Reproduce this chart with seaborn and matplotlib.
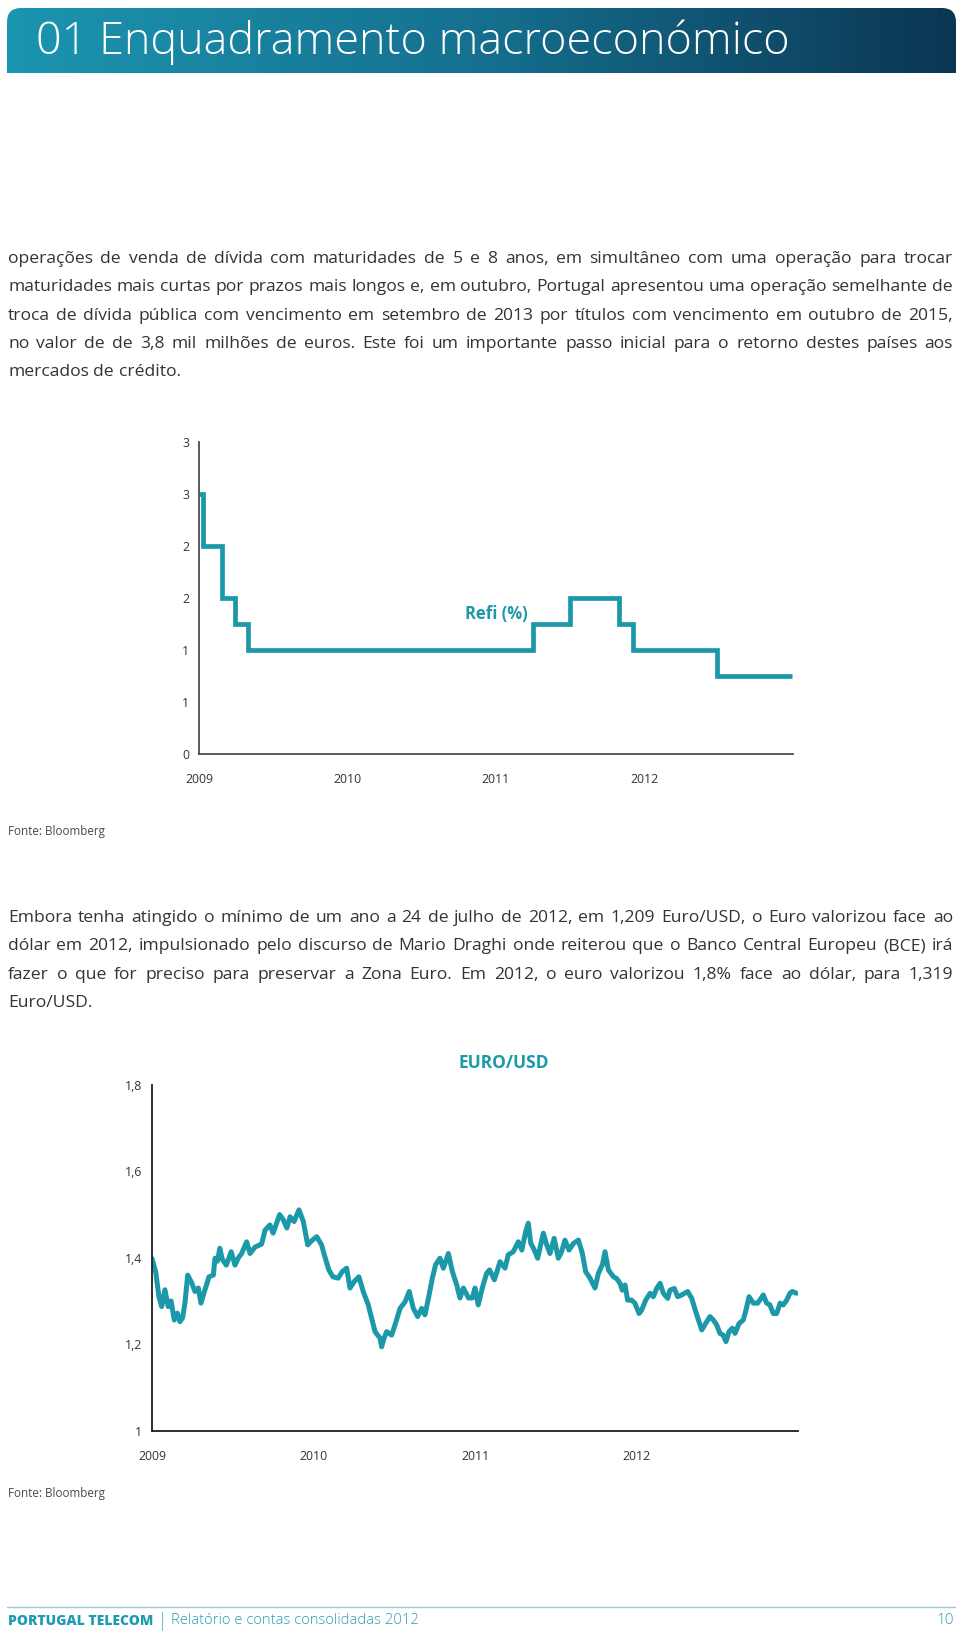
import numpy as np
import matplotlib
matplotlib.use("Agg")
import matplotlib.pyplot as plt
import matplotlib.font_manager as fm
from matplotlib.colors import LinearSegmentedColormap
from matplotlib.patches import FancyBboxPatch
import seaborn as sns

# ---------------- data ----------------
header_title = "01 Enquadramento macroeconómico"

para1_lines = [
    "operações de venda de dívida com maturidades de 5 e 8 anos, em simultâneo com uma operação para trocar",
    "maturidades mais curtas por prazos mais longos e, em outubro, Portugal apresentou uma operação semelhante de",
    "troca de dívida pública com vencimento em setembro de 2013 por títulos com vencimento em outubro de 2015,",
    "no valor de de 3,8 mil milhões de euros. Este foi um importante passo inicial para o retorno destes países aos",
    "mercados de crédito.",
]
para2_lines = [
    "Embora tenha atingido o mínimo de um ano a 24 de julho de 2012, em 1,209 Euro/USD, o Euro valorizou face ao",
    "dólar em 2012, impulsionado pelo discurso de Mario Draghi onde reiterou que o Banco Central Europeu (BCE) irá",
    "fazer o que for preciso para preservar a Zona Euro. Em 2012, o euro valorizou 1,8% face ao dólar, para 1,319",
    "Euro/USD.",
]
source_text = "Fonte: Bloomberg"

# Refi (%) step series: decimal year of each change and the new rate
refi_time = [2009.0, 2009.03, 2009.155, 2009.24, 2009.33, 2011.25, 2011.50,
             2011.83, 2011.92, 2012.49, 2012.99]
refi_rate = [2.5, 2.0, 1.5, 1.25, 1.0, 1.25, 1.5, 1.25, 1.0, 0.75, 0.75]
refi_label = "Refi (%)"
refi_yticks = [0, 0.5, 1.0, 1.5, 2.0, 2.5, 3.0]
refi_yticklabels = ["0", "1", "1", "2", "2", "3", "3"]

# EUR/USD: fraction of year, value
eur_t_2009 = [0.000, 0.023, 0.043, 0.060, 0.080, 0.100, 0.118, 0.138, 0.157, 0.173,
              0.190, 0.204, 0.221, 0.246, 0.266, 0.287, 0.303, 0.328, 0.353, 0.380,
              0.390, 0.405, 0.420, 0.435, 0.460, 0.490, 0.514, 0.535, 0.555, 0.586,
              0.607, 0.638, 0.669, 0.679, 0.700, 0.730, 0.750, 0.790, 0.810, 0.835,
              0.855, 0.880, 0.910, 0.937, 0.964, 0.990]
eur_v_2009 = [1.398, 1.367, 1.310, 1.287, 1.326, 1.287, 1.300, 1.256, 1.272, 1.252,
              1.262, 1.295, 1.360, 1.342, 1.322, 1.330, 1.295, 1.326, 1.356, 1.360,
              1.399, 1.392, 1.422, 1.397, 1.383, 1.414, 1.383, 1.400, 1.410, 1.437,
              1.410, 1.425, 1.430, 1.432, 1.464, 1.476, 1.457, 1.500, 1.490, 1.469,
              1.495, 1.484, 1.511, 1.484, 1.430, 1.440]
eur_t_2010 = [0.020, 0.050, 0.070, 0.095, 0.120, 0.153, 0.178, 0.205, 0.226, 0.252,
              0.281, 0.308, 0.339, 0.360, 0.381, 0.412, 0.422, 0.438, 0.453, 0.484,
              0.505, 0.536, 0.567, 0.593, 0.618, 0.645, 0.670, 0.690, 0.710, 0.736,
              0.756, 0.783, 0.804, 0.835, 0.860, 0.887, 0.907, 0.928, 0.960, 0.983]
eur_v_2010 = [1.449, 1.430, 1.403, 1.372, 1.356, 1.353, 1.368, 1.376, 1.330, 1.345,
              1.356, 1.322, 1.291, 1.260, 1.229, 1.214, 1.194, 1.215, 1.229, 1.221,
              1.245, 1.283, 1.298, 1.322, 1.283, 1.264, 1.283, 1.268, 1.303, 1.353,
              1.384, 1.399, 1.376, 1.410, 1.368, 1.337, 1.307, 1.330, 1.307, 1.307]
eur_t_2011 = [0.000, 0.020, 0.045, 0.072, 0.090, 0.120, 0.155, 0.186, 0.206, 0.237,
              0.268, 0.290, 0.314, 0.330, 0.345, 0.367, 0.388, 0.402, 0.423, 0.444,
              0.464, 0.490, 0.516, 0.536, 0.557, 0.582, 0.609, 0.640, 0.665, 0.685,
              0.712, 0.743, 0.764, 0.789, 0.805, 0.826, 0.857, 0.877, 0.898, 0.912,
              0.929, 0.945, 0.970, 0.990]
eur_v_2011 = [1.330, 1.291, 1.330, 1.364, 1.372, 1.349, 1.391, 1.376, 1.407, 1.414,
              1.437, 1.418, 1.461, 1.480, 1.434, 1.418, 1.399, 1.422, 1.457, 1.430,
              1.410, 1.445, 1.399, 1.414, 1.441, 1.418, 1.433, 1.441, 1.410, 1.368,
              1.353, 1.330, 1.364, 1.384, 1.414, 1.372, 1.356, 1.352, 1.341, 1.325,
              1.337, 1.302, 1.302, 1.295]
eur_t_2012 = [0.016, 0.032, 0.057, 0.084, 0.104, 0.125, 0.146, 0.166, 0.193, 0.207,
              0.234, 0.255, 0.280, 0.317, 0.342, 0.367, 0.387, 0.404, 0.428, 0.455,
              0.476, 0.496, 0.517, 0.537, 0.554, 0.573, 0.593, 0.610, 0.635, 0.661,
              0.678, 0.697, 0.723, 0.750, 0.771, 0.785, 0.806, 0.826, 0.847, 0.868,
              0.889, 0.909, 0.930, 0.950, 0.965, 0.990]
eur_v_2012 = [1.271, 1.279, 1.302, 1.318, 1.310, 1.329, 1.341, 1.318, 1.306, 1.325,
              1.329, 1.310, 1.314, 1.322, 1.306, 1.275, 1.252, 1.233, 1.248, 1.264,
              1.256, 1.245, 1.225, 1.221, 1.206, 1.229, 1.237, 1.225, 1.248, 1.256,
              1.279, 1.310, 1.295, 1.295, 1.306, 1.314, 1.295, 1.291, 1.271, 1.271,
              1.295, 1.291, 1.302, 1.318, 1.322, 1.318]
eur_label = "EURO/USD"
eur_yticks = [1.0, 1.2, 1.4, 1.6, 1.8]
eur_yticklabels = ["1", "1,2", "1,4", "1,6", "1,8"]

year_ticks = [2009, 2010, 2011, 2012]
year_labels = ["2009", "2010", "2011", "2012"]

footer_brand = "PORTUGAL TELECOM"
footer_text = "Relatório e contas consolidadas 2012"
page_number = "10"

# ---------------- style ----------------
sns.set_style("white")
avail = {f.name for f in fm.fontManager.ttflist}
BODY = "Open Sans" if "Open Sans" in avail else "DejaVu Sans"
plt.rcParams["font.family"] = [BODY, "DejaVu Sans"]

TEAL = "#1c99a8"
TEXT = "#333333"
W, H = 960, 1637

fig = plt.figure(figsize=(W / 100, H / 100), dpi=100)
fig.patch.set_facecolor("white")
renderer = fig.canvas.get_renderer()


def fx(x):
    return x / W


def fy(y):
    return 1 - y / H


def width_of(t):
    return t.get_window_extent(renderer).width


def fit(t, target):
    w = width_of(t)
    t.set_fontsize(t.get_fontsize() * target / w)
    return t


# ---------------- header ----------------
hx0, hx1, hy0, hy1 = 7, 956, 8, 73
hax = fig.add_axes([fx(hx0), fy(hy1), fx(hx1 - hx0), (hy1 - hy0) / H])
hax.set_xlim(0, hx1 - hx0)
hax.set_ylim(hy1 - hy0, 0)
hax.axis("off")
cmap = LinearSegmentedColormap.from_list("hdr", ["#1c95b0", "#15708f", "#0b3653"])
img = hax.imshow(np.linspace(0, 1, 512)[None, :], cmap=cmap, aspect="auto",
                 extent=(0, hx1 - hx0, hy1 - hy0, 0))
clip = FancyBboxPatch((0, 0), hx1 - hx0, hy1 - hy0 + 30,
                      boxstyle="round,pad=0,rounding_size=14",
                      transform=hax.transData, facecolor="none", edgecolor="none")
img.set_clip_path(clip)
title = fig.text(fx(36), fy(42), header_title, color="white", fontsize=30,
                 fontweight="light", va="center", ha="left")
fit(title, 754)


# ---------------- paragraphs ----------------
BODY_WEIGHT = "normal"


def paragraph(lines, x0, x1, base0, dy, size, justify_last=False):
    for i, line in enumerate(lines):
        words = line.split(" ")
        texts = [fig.text(0, 0, w, fontsize=size, color=TEXT, va="baseline",
                          ha="left", fontweight=BODY_WEIGHT) for w in words]
        widths = [width_of(t) for t in texts]
        last = (i == len(lines) - 1) and not justify_last
        if last or len(words) == 1:
            sp = fig.text(0, 0, "a a", fontsize=size, fontweight=BODY_WEIGHT)
            sp2 = fig.text(0, 0, "aa", fontsize=size, fontweight=BODY_WEIGHT)
            gap = width_of(sp) - width_of(sp2)
            sp.remove(); sp2.remove()
        else:
            gap = (x1 - x0 - sum(widths)) / (len(words) - 1)
        x = x0
        for t, w in zip(texts, widths):
            t.set_position((fx(x), fy(base0 + i * dy)))
            x += w + gap


def natural_size(all_lines, target, ref=10.0):
    mx = 0
    for line in all_lines:
        t = fig.text(0, 0, line, fontsize=ref, fontweight=BODY_WEIGHT)
        mx = max(mx, width_of(t))
        t.remove()
    return ref * target / mx


body_size = min(13.0, natural_size(para1_lines[:4] + para2_lines[:3], 953 - 8 - 6))
paragraph(para1_lines, 8, 953, 263, 28.3, body_size)
paragraph(para2_lines, 8, 953, 922, 28.3, body_size)

# ---------------- chart 1 : Refi ----------------
ax1 = fig.add_axes([fx(199), fy(754), fx(793 - 199), (754 - 442) / H])
sns.lineplot(x=refi_time, y=refi_rate, ax=ax1, color=TEAL, linewidth=3.4,
             drawstyle="steps-post", estimator=None, sort=False,
             solid_capstyle="butt", solid_joinstyle="miter")
ax1.set_xlim(2009.0, 2013.0)
ax1.set_ylim(0, 3.0)
ax1.set_yticks(refi_yticks)
ax1.set_yticklabels(refi_yticklabels)
ax1.text(2011.0, 1.35, refi_label, color=TEAL, fontsize=12, fontweight="bold",
         ha="center", va="center")

# ---------------- chart 2 : EUR/USD ----------------
eur_time = ([2009 + t for t in eur_t_2009] + [2010 + t for t in eur_t_2010] +
            [2011 + t for t in eur_t_2011] + [2012 + t for t in eur_t_2012])
eur_value = eur_v_2009 + eur_v_2010 + eur_v_2011 + eur_v_2012

ax2 = fig.add_axes([fx(152), fy(1430.6), fx(798 - 152), (1430.6 - 1085) / H])
sns.lineplot(x=eur_time, y=eur_value, ax=ax2, color=TEAL, linewidth=3.6,
             estimator=None, sort=False)
ax2.set_xlim(2009.0, 2013.0)
ax2.set_ylim(1.0, 1.8)
ax2.set_yticks(eur_yticks)
ax2.set_yticklabels(eur_yticklabels)
ax2.text(2011.18, 1.852, eur_label, color=TEAL, fontsize=12.5, fontweight="bold",
         ha="center", va="center", clip_on=False)

for ax, scol in ((ax1, "#4d4d4d"), (ax2, "#1e1e1e")):
    sns.despine(ax=ax)
    ax.set_facecolor("none")
    for s in ("left", "bottom"):
        ax.spines[s].set_linewidth(1.3)
        ax.spines[s].set_color(scol)
    ax.set_xticks(year_ticks)
    ax.set_xticklabels(year_labels)
    ax.tick_params(axis="y", length=4, width=1, direction="out", pad=3,
                   labelsize=8.8, colors="#333333")
    ax.tick_params(axis="x", length=0, pad=14, labelsize=8.8, colors="#333333")
    ax.grid(False)
    ax.set_xlabel("")
    ax.set_ylabel("")

# ---------------- sources ----------------
for yy in (831, 1494):
    t = fig.text(fx(7.5), fy(yy), source_text, color="#4a4a4a", fontsize=10,
                 va="center", ha="left")
    fit(t, 97)

# ---------------- footer ----------------
fig.add_artist(plt.Line2D([fx(7), fx(955)], [fy(1607), fy(1607)],
                          color="#9ccbd3", linewidth=1.0))
b = fig.text(fx(7.5), fy(1621), footer_brand, color="#1f9bb3", fontsize=10,
             fontweight="heavy", va="center", ha="left")
fit(b, 146)
fig.add_artist(plt.Line2D([fx(162), fx(162)], [fy(1612), fy(1630)],
                          color="#7fbfcc", linewidth=0.8))
f = fig.text(fx(171), fy(1621), footer_text, color="#2a9db3", fontsize=11,
             fontweight="light", va="center", ha="left")
fit(f, 246)
fig.text(fx(954), fy(1621), page_number, color="#2a9db3", fontsize=11,
         fontweight="light", va="center", ha="right")

fig.savefig("out.png", dpi=100, facecolor="white")
